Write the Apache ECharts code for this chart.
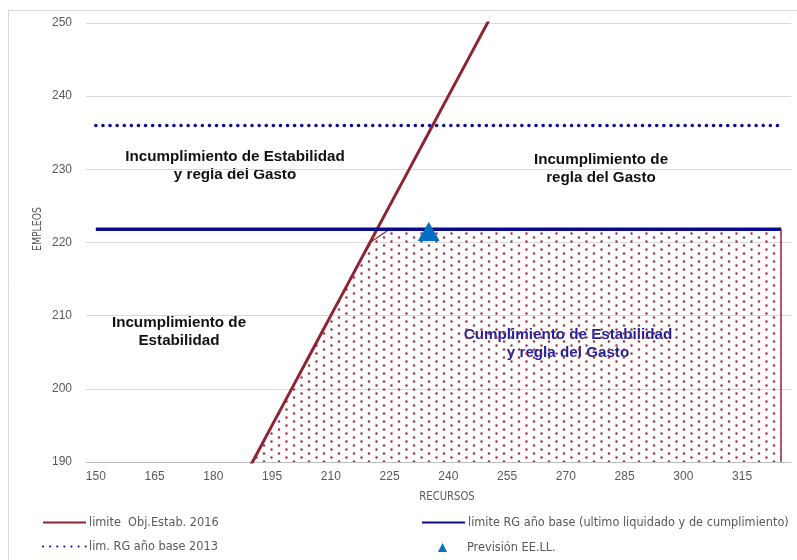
<!DOCTYPE html>
<html><head><meta charset="utf-8">
<script src="https://cdn.jsdelivr.net/npm/echarts@6/dist/echarts.min.js"></script>
<style>html,body{margin:0;padding:0;background:#fff}#c{width:797px;height:560px}</style>
</head><body><div id="c"></div>
<script>
// ---- data ----
const recursos = ['150','155','160','165','170','175','180','185','190','195','200','205','210','215','220','225','230','235','240','245','250','255','260','265','270','275','280','285','290','295','300','305','310','315','320','325'];
const limiteEstab = [150,155,160,165,170,175,180,185,190,195,200,205,210,215,220,225,230,235,240,245,250,255,260,265,270,275,280,285,290,295,300,305,310,315,320,325];
const limiteRG = [221.8,221.8,221.8,221.8,221.8,221.8,221.8,221.8,221.8,221.8,221.8,221.8,221.8,221.8,221.8,221.8,221.8,221.8,221.8,221.8,221.8,221.8,221.8,221.8,221.8,221.8,221.8,221.8,221.8,221.8,221.8,221.8,221.8,221.8,221.8,221.8];
const limRG2013 = [236,236,236,236,236,236,236,236,236,236,236,236,236,236,236,236,236,236,236,236,236,236,236,236,236,236,236,236,236,236,236,236,236,236,236,236];
const cumplimiento = [null,null,null,null,null,null,null,null,190,195,200,205,210,215,220,221.8,221.8,221.8,221.8,221.8,221.8,221.8,221.8,221.8,221.8,221.8,221.8,221.8,221.8,221.8,221.8,221.8,221.8,221.8,221.8,221.8];
const prevision = [['235', 221.5]];
const yMin = 190, yMax = 250, yStep = 10;
const names = ['limite  Obj.Estab. 2016','lim. RG año base 2013','limite RG año base (ultimo liquidado y de cumplimiento)','Previsión EE.LL.'];

// ---- pattern ----
const pat = document.createElement('canvas');
pat.width = 15; pat.height = 8;
const pc = pat.getContext('2d');
pc.fillStyle = 'rgb(165,45,65)';
[[1.5,1.5],[9,5.5]].forEach(p=>{pc.beginPath();pc.arc(p[0],p[1],1.2,0,Math.PI*2);pc.fill();});

const NARROW = "'Liberation Sans Narrow','DejaVu Sans Condensed',sans-serif";
const SANS = "'Liberation Sans',Arial,sans-serif";
const chart = echarts.init(document.getElementById('c'), null, {renderer:'canvas'});
const lg = (item, left, top, iw, ih, padL, extra) => Object.assign({
  data:[item], left:left, top:top, padding:0, itemWidth:iw, itemHeight:ih, orient:'vertical',
  textStyle:{fontFamily:NARROW, fontSize:12.6, color:'#595959', padding:[0,0,0,padL]}
}, extra || {});
const hideSym = {itemStyle:{opacity:0}};
chart.setOption({
  animation:false,
  backgroundColor:'#fff',
  grid:{left:86, right:6, top:23, bottom:98, containLabel:false},
  legend:[
    lg(names[0],42,516,43,14,-2,hideSym),
    lg(names[1],42,540,43,14,-2,hideSym),
    lg(names[2],421,516,43,14,-2,hideSym),
    lg({name:names[3], icon:'triangle'},438,541,9,9,15)
  ],
  xAxis:{type:'category', data:recursos, boundaryGap:true,
    axisLine:{lineStyle:{color:'#bfbfbf'}},
    axisTick:{interval:0, length:4, lineStyle:{color:'#bfbfbf'}},
    axisLabel:{interval:2, margin:9, fontFamily:SANS, fontSize:12, color:'#595959'},
    splitLine:{show:false}},
  yAxis:{type:'value', min:yMin, max:yMax, interval:yStep,
    axisLine:{show:false}, axisTick:{show:false},
    axisLabel:{margin:14, fontFamily:SANS, fontSize:12, color:'#595959'},
    splitLine:{lineStyle:{color:'#d9d9d9'}}},
  series:[
    {name:'area', type:'line', data:cumplimiento, symbol:'none', z:1, clip:true,
     lineStyle:{color:'#9a2a3a', width:1.3},
     areaStyle:{color:{image:pat, repeat:'repeat'}, opacity:1},
     markLine:{silent:true, symbol:'none', label:{show:false},
       lineStyle:{color:'#9a2a3a', width:1.5, type:'solid'},
       data:[[{coord:['325', yMin]},{coord:['325', 221.8]}]]}},
    {name:names[0], type:'line', data:limiteEstab, symbol:'none', z:3, clip:true,
     lineStyle:{color:'#8e2433', width:3}, itemStyle:{color:'#8e2433'}},
    {name:names[2], type:'line', data:limiteRG, symbol:'none', z:4,
     lineStyle:{color:'#0a0a8c', width:3.5}, itemStyle:{color:'#0a0a8c'}},
    {name:names[1], type:'line', data:limRG2013, symbol:'none', z:4,
     lineStyle:{color:'#0a0a9a', width:3.5, type:[0.1,7], cap:'round'}, itemStyle:{color:'#0a0a9a'}},
    {name:names[3], type:'scatter', data:prevision, symbol:'triangle', symbolSize:[22,19], z:6,
     itemStyle:{color:'#0070c0', opacity:1}}
  ],
  graphic:[
    {type:'rect', shape:{x:8.5,y:10.5,width:800,height:560}, style:{fill:'none', stroke:'#d9d9d9', lineWidth:1}, z:-1, silent:true},
    {type:'text', x:38, y:229, rotation:Math.PI/2, scaleX:0.8, style:{text:'EMPLEOS', font:'13px '+NARROW, fill:'#595959', align:'center', verticalAlign:'middle'}},
    {type:'text', x:447, y:497, scaleX:0.86, style:{text:'RECURSOS', font:'13px '+NARROW, fill:'#595959', align:'center', verticalAlign:'middle'}},
    {type:'text', x:235, y:166, style:{text:'Incumplimiento de Estabilidad\ny regla del Gasto', font:'bold 15.2px '+SANS, lineHeight:18, fill:'#111', align:'center', verticalAlign:'middle'}},
    {type:'text', x:601, y:169, style:{text:'Incumplimiento de\nregla del Gasto', font:'bold 15.2px '+SANS, lineHeight:18, fill:'#111', align:'center', verticalAlign:'middle'}},
    {type:'text', x:179, y:332, style:{text:'Incumplimiento de\nEstabilidad', font:'bold 15.2px '+SANS, lineHeight:18, fill:'#111', align:'center', verticalAlign:'middle'}},
    {type:'text', x:568, y:344, style:{text:'Cumplimiento de Estabilidad\ny regla del Gasto', font:'bold 15.2px '+SANS, lineHeight:18, fill:'#1f1fa0', align:'center', verticalAlign:'middle'}}
  ]
});
</script></body></html>
